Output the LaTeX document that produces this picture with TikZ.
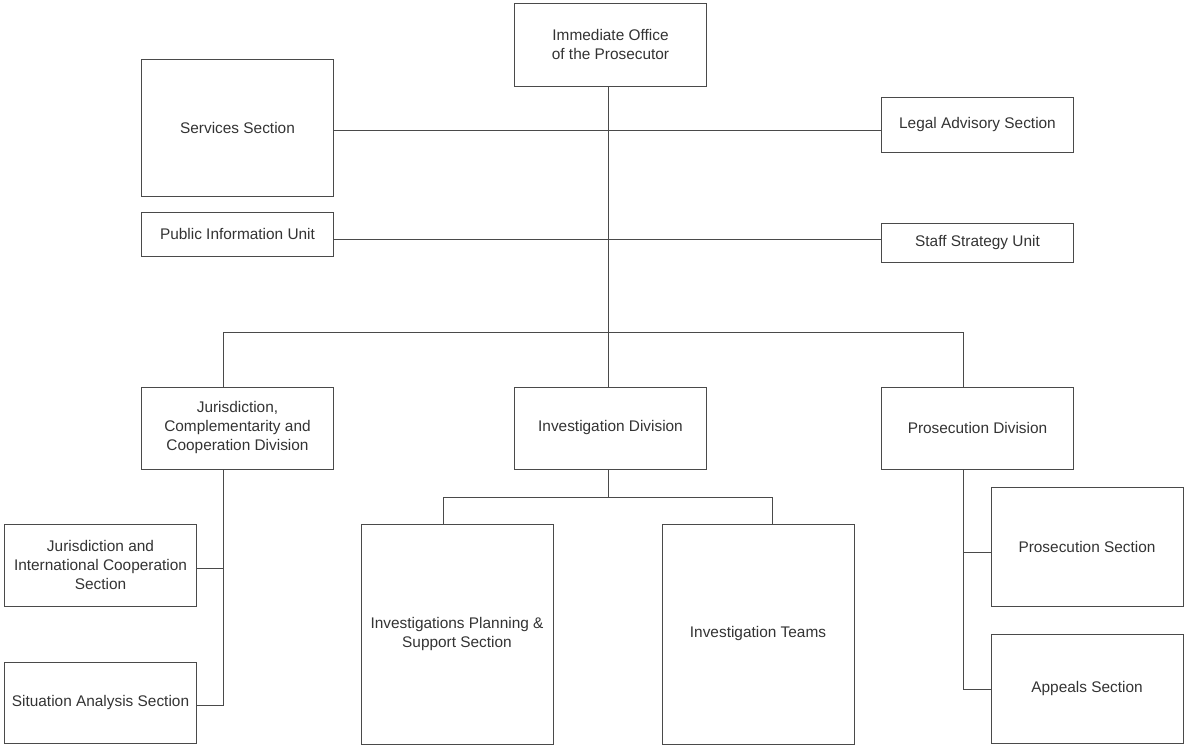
\documentclass[tikz,border=0pt]{standalone}
\usepackage{fontspec}
\setmainfont{Liberation Sans}
\usepackage{tikz}

\definecolor{linegray}{HTML}{4A4A4A}
\definecolor{textgray}{HTML}{333333}

\begin{document}
\begin{tikzpicture}[
                x=1pt, y=-1pt,                % 像素坐标
                box/.style={
                    rectangle,
                    draw=linegray,
                    line width=1pt,
                    text=textgray,
                    minimum width=192pt,
                    align=center,
                    inner sep=2pt,
                    font=\fontsize{15.4}{19}\selectfont
                },
                line/.style={draw=linegray, line width=1pt}
            ]
                \useasboundingbox (0,0) rectangle (1184,745);

                % 节点
                \node[box, minimum height=83pt] (office) at (610.5,44.5) {Immediate Office\\of the Prosecutor};
                \node[box, minimum height=137pt] (services) at (237.5,127.5) {Services Section};
                \node[box, minimum height=55pt] (legal) at (977.5,124.5) {Legal Advisory Section};
                \node[box, minimum height=44pt] (pubinfo) at (237.5,234) {Public Information Unit};
                \node[box, minimum height=39pt] (staff) at (977.5,242.5) {Staff Strategy Unit};
                \node[box, minimum height=82pt] (jcc) at (237.5,428) {Jurisdiction,\\Complementarity and\\Cooperation Division};
                \node[box, minimum height=82pt] (invdiv) at (610.5,428) {Investigation Division};
                \node[box, minimum height=82pt] (prosdiv) at (977.5,428) {Prosecution Division};
                \node[box, minimum height=82pt] (jics) at (100.5,565) {Jurisdiction and\\International Cooperation\\Section};
                \node[box, minimum height=81pt] (sas) at (100.5,702.5) {Situation Analysis Section};
                \node[box, minimum height=220pt] (ipss) at (457,634) {Investigations Planning \&\\Support Section};
                \node[box, minimum height=220pt] (teams) at (758,634) {Investigation Teams};
                \node[box, minimum height=119pt] (pross) at (1087,546.5) {Prosecution Section};
                \node[box, minimum height=109pt] (appeals) at (1087,688.5) {Appeals Section};

                % 连接点
                \coordinate (bus) at (608,332);
                \coordinate (busL) at (223,332);
                \coordinate (busR) at (963,332);
                \coordinate (row1) at (608,130);
                \coordinate (row2) at (608,239);
                \coordinate (jcc1) at (223,568);
                \coordinate (jcc2) at (223,705);
                \coordinate (ibus) at (608,497);
                \coordinate (ibusL) at (443,497);
                \coordinate (ibusR) at (772,497);
                \coordinate (pro1) at (963,552);
                \coordinate (pro2) at (963,689);

                % 边
                \draw[line] (office.south -| bus) -- (bus);
                \draw[line] (services.east |- row1) -- (legal.west |- row1);
                \draw[line] (pubinfo.east |- row2) -- (staff.west |- row2);
                \draw[line] (busL |- jcc.north) -- (busL) -- (busR) -- (busR |- prosdiv.north);
                \draw[line] (bus) -- (bus |- invdiv.north);
                \draw[line] (jcc.south -| busL) -- (jcc2) -- (jcc2 -| sas.east);
                \draw[line] (jcc1) -- (jcc1 -| jics.east);
                \draw[line] (invdiv.south -| ibus) -- (ibus);
                \draw[line] (ibusL |- ipss.north) -- (ibusL) -- (ibusR) -- (ibusR |- teams.north);
                \draw[line] (prosdiv.south -| busR) -- (pro2) -- (pro2 -| appeals.west);
                \draw[line] (pro1) -- (pro1 -| pross.west);
            \end{tikzpicture}
\end{document}
